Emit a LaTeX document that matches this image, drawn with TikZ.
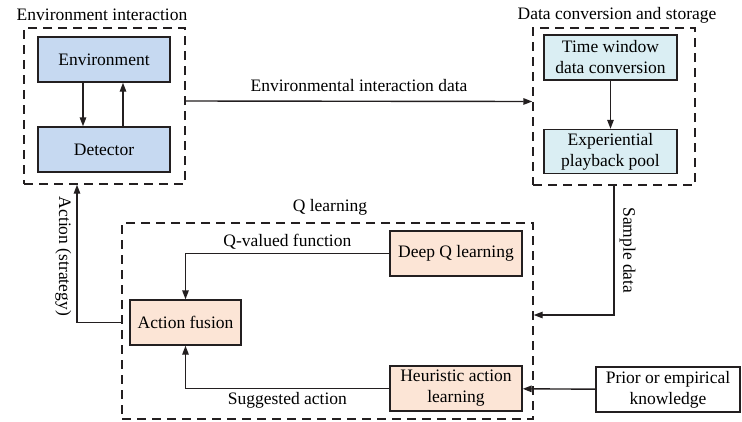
\documentclass[tikz,border=0pt]{standalone}
\usepackage{fontspec}
\setmainfont{Liberation Serif}
\usetikzlibrary{arrows.meta}
\definecolor{box_blue}{RGB}{198,217,241}
\definecolor{box_cyan}{RGB}{218,238,243}
\definecolor{box_peach}{RGB}{252,229,214}
\definecolor{line_gray}{RGB}{35,31,32}

\begin{document}
\begin{tikzpicture}[x=1pt,y=-1pt,line width=1.4pt,>={Triangle[length=9pt,width=6.5pt]},
    font=\fontsize{17.5}{21}\selectfont]
    \tikzstyle{block}=[draw=line_gray, rectangle, minimum width=132pt, minimum height=45pt, align=center, inner sep=2pt, text=black]
    \tikzstyle{group}=[draw=line_gray, rectangle, dash pattern=on 9pt off 6pt, fill=none, inner sep=0pt]
    \tikzstyle{arr}=[->, draw=line_gray]
    \useasboundingbox (0,0) rectangle (742,421);

    % dashed frames
    \node[group, minimum width=161pt, minimum height=156pt] (envgrp)  at (104.5,106)  {};
    \node[group, minimum width=162pt, minimum height=157pt] (datagrp) at (614,106.5)  {};
    \node[group, minimum width=411pt, minimum height=196pt] (qgrp)    at (327.5,321)  {};
    \node (envlbl)  at (102,15)  {Environment interaction};
    \node (datalbl) at (617,15)  {Data conversion and storage};
    \node (qlbl)    at (330,207) {Q learning};

    % blocks
    \node[block, fill=box_blue]  (env)    at (104,59.5)  {Environment};
    \node[block, fill=box_blue]  (det)    at (104,149.5) {Detector};
    \node[block, fill=box_cyan, minimum width=133pt]  (time) at (610.5,57.5)  {Time window\\data conversion};
    \node[block, fill=box_cyan, minimum width=133pt, minimum height=44pt] (pool) at (610.5,151.5) {Experiential\\playback pool};
    \node[block, fill=box_peach, minimum width=111pt] (fusion) at (185.5,322.5) {Action fusion};
    \node[block, fill=box_peach] (deepq)  at (456,253.5) {Deep Q learning};
    \node[block, fill=box_peach] (heur)   at (456,388.5) {Heuristic action\\learning};
    \node[block, fill=white, minimum width=144pt] (prior) at (668,389.5) {Prior or empirical\\knowledge};

    % connectors
    \draw[arr] ([xshift=-21pt]env.south) -- ([xshift=-21pt]det.north);
    \draw[arr] ([xshift=19pt]det.north) -- ([xshift=19pt]env.south);
    \draw[arr] ([yshift=5pt]envgrp.east) -- node[above=6pt] {Environmental interaction data} ([yshift=5pt]datagrp.west);
    \draw[arr] (time) -- (pool);
    \draw[arr] (datagrp.south) |- ([yshift=6pt]qgrp.east)
        node[pos=0.25, rotate=-90, anchor=south, inner sep=5pt] {Sample data};
    \draw[arr] (prior) -- (heur);
    \draw[arr] (deepq.west) -| node[pos=0.25, above] {Q-valued function} (fusion.north);
    \draw[arr] (heur.west) -| node[pos=0.25, below] {Suggested action} (fusion.south);
    \draw[arr] (qgrp.west |- fusion.west) -| node[pos=0.74, rotate=-90, anchor=north, inner sep=5pt] {Action (strategy)} ([xshift=-27.5pt]envgrp.south);
\end{tikzpicture}
\end{document}
